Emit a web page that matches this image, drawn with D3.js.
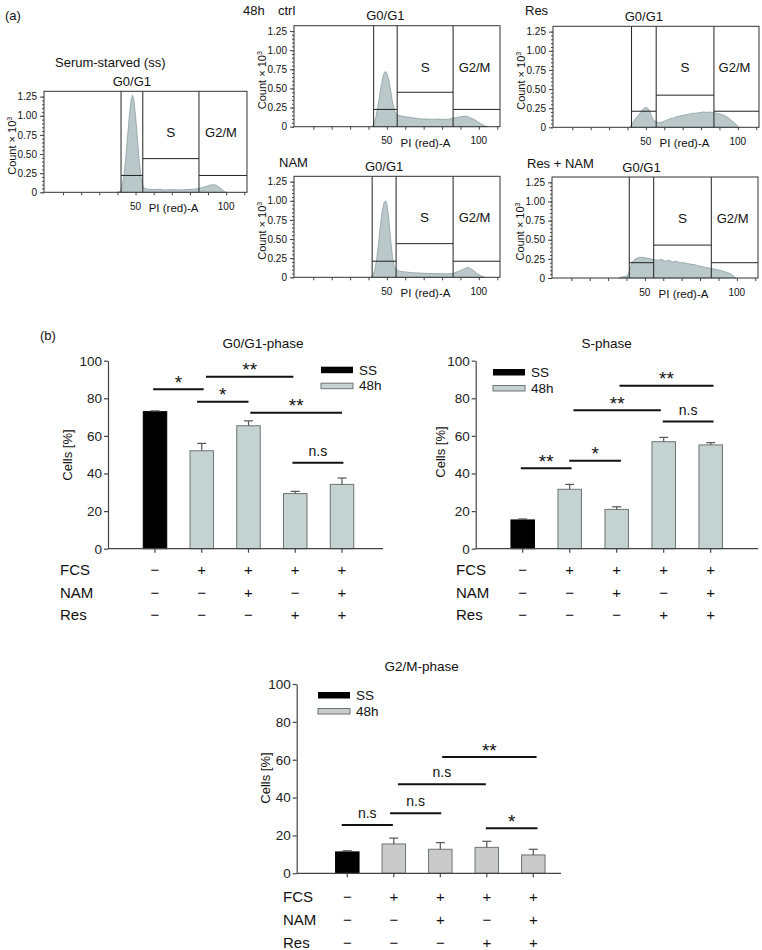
<!DOCTYPE html>
<html>
<head>
<meta charset="utf-8">
<script src="https://cdn.jsdelivr.net/npm/d3@7"></script>
<style>
  body { margin: 0; background: #fff; }
  svg { display: block; font-family: "Liberation Sans", Arial, Helvetica, sans-serif; }
</style>
</head>
<body>
<svg id="fig" width="762" height="950"></svg>
<script>
// ---------- (a) DNA histograms: [PI (red)-A, count x 10^3] ----------
const histSS = [[40,0],[41.5,0.01],[42.5,0.06],[43.5,0.2],[44.5,0.42],[45.5,0.7],[46.5,0.98],[47.5,1.2],[48.3,1.27],[49,1.22],[50,1.0],[51,0.72],[52,0.42],[53,0.2],[54,0.09],[55,0.05],[57,0.04],[60,0.035],[63,0.04],[66,0.03],[70,0.035],[74,0.03],[78,0.035],[82,0.04],[85,0.05],[88,0.07],[90,0.085],[92,0.1],[93,0.095],[94,0.1],[96,0.07],[98,0.03],[99,0.01],[100,0]];
const histCtrl = [[42,0],[43,0.04],[44,0.12],[45,0.25],[46,0.4],[47,0.55],[48,0.67],[49,0.72],[50,0.7],[51,0.62],[52,0.48],[53,0.33],[54,0.22],[55,0.17],[56,0.15],[58,0.14],[60,0.13],[63,0.12],[66,0.11],[69,0.1],[72,0.1],[75,0.095],[78,0.1],[81,0.095],[84,0.1],[86,0.11],[88,0.12],[90,0.13],[92,0.135],[93,0.14],[95,0.12],[97,0.1],[99,0.07],[101,0.04],[103,0.015],[104.5,0]];
const histRes = [[41.5,0],[42,0.03],[43,0.07],[45,0.13],[47,0.19],[48.5,0.24],[50,0.26],[51,0.25],[52,0.22],[53,0.15],[54,0.1],[55.5,0.07],[57,0.06],[59,0.07],[61,0.09],[63,0.11],[65,0.12],[67,0.14],[69,0.15],[71,0.16],[73,0.17],[75,0.18],[77,0.185],[79,0.19],[81,0.2],[83,0.195],[85,0.2],[87,0.19],[89,0.18],[91,0.17],[93,0.15],[95,0.12],[97,0.08],[99,0.04],[100.5,0]];
const histNAM = [[41.5,0],[42.5,0.03],[43.5,0.1],[44.5,0.25],[45.5,0.45],[46.5,0.68],[47.5,0.87],[48.5,0.98],[49.3,1.0],[50,0.96],[51,0.78],[52,0.5],[53,0.27],[54,0.14],[55,0.1],[57,0.08],[60,0.07],[64,0.06],[68,0.055],[72,0.05],[76,0.05],[80,0.045],[84,0.045],[86,0.05],[88,0.07],[90,0.09],[92,0.11],[94,0.13],[95,0.12],[97,0.09],[99,0.05],[101,0.02],[103,0]];
const histResNAM = [[36,0],[37,0.01],[39,0.02],[40.5,0.03],[41.5,0.08],[42.5,0.17],[43.5,0.22],[45,0.25],[47,0.27],[49,0.27],[51,0.26],[53,0.25],[55,0.24],[57,0.23],[59,0.245],[61,0.22],[63,0.23],[65,0.21],[67,0.22],[69,0.2],[71,0.2],[73,0.19],[75,0.18],[77,0.175],[79,0.16],[81,0.15],[83,0.14],[85,0.13],[87,0.12],[89,0.11],[91,0.1],[93,0.085],[95,0.07],[97,0.05],[98.5,0.02],[99.5,0]];

// gate borders (G0/G1 start, S start, G2/M start) and gate marker levels
const gatesSS = [42, 54, 85],       levelsSS = [0.22, 0.44, 0.22];
const gatesCtrl = [42.8, 55.6, 86], levelsCtrl = [0.226, 0.45, 0.226];
const gatesRes = [42.2, 55.6, 87],  levelsRes = [0.21, 0.42, 0.21];
const gatesNAM = [42, 55, 86],      levelsNAM = [0.21, 0.44, 0.21];
const gatesResNAM = [41.5, 54.8, 86.1], levelsResNAM = [0.2, 0.43, 0.2];

const histYTicks = [0, 0.25, 0.5, 0.75, 1, 1.25];
const histXTicks = [10, 20, 30, 40, 50, 60, 70, 80, 90, 100, 110];
const histXLabels = [50, 100];

// ---------- (b) bar charts ----------
const legendLabels = ["SS", "48h"];
const rowNames = ["FCS", "NAM", "Res"];
const fcsSigns = ["−", "+", "+", "+", "+"];
const namSigns = ["−", "−", "+", "−", "+"];
const resSigns = ["−", "−", "−", "+", "+"];
const barYTicks = [0, 20, 40, 60, 80, 100];

const g0g1Vals = [72.9, 52.1, 65.4, 29.3, 34.2];
const g0g1Err  = [0.4, 3.9, 2.6, 1.2, 3.4];
const sVals    = [15.3, 31.6, 20.9, 56.9, 55.2];
const sErr     = [0.5, 2.6, 1.4, 2.3, 1.2];
const g2mVals  = [11.3, 15.5, 12.7, 13.7, 9.7];
const g2mErr   = [0.6, 3.1, 3.5, 3.2, 3.0];

// significance bars: [from bar, to bar, height %, label]
const g0g1Sig = [[-0.04, 1.04, 84.8, "*"], [1.09, 2.96, 91.5, "**"], [0.9, 2.0, 78.2, "*"], [2.04, 4.0, 72.3, "**"], [2.94, 4.03, 45.7, "n.s"]];
const sSig    = [[-0.04, 1.04, 42.8, "**"], [0.99, 2.09, 46.8, "*"], [1.08, 2.94, 73.6, "**"], [2.98, 4.06, 67.6, "n.s"], [2.06, 4.06, 86.7, "**"]];
const g2mSig  = [[-0.12, 0.98, 25.5, "n.s"], [0.92, 2.02, 31.7, "n.s"], [1.09, 2.98, 47.0, "n.s"], [2.04, 4.07, 61.4, "**"], [2.98, 4.09, 23.8, "*"]];

const svg = d3.select("#fig");
const txt = (x, y, s, size, anchor = "start") =>
  svg.append("text").attr("x", x).attr("y", y).attr("dy", "0.35em")
    .attr("font-size", size).attr("text-anchor", anchor).attr("fill", "#111").text(s);

// ================= (a) =================
txt(5, 15, "(a)", 13);
txt(243, 10, "48h", 13);

const histPanels = [
  { title: "Serum-starved (ss)", tx: 55, ty: 62, x0: 44, x1: 247, y1: 192.3, data: histSS, gates: gatesSS, levels: levelsSS },
  { title: "ctrl", tx: 278, ty: 10, x0: 294, x1: 500, y1: 126.7, data: histCtrl, gates: gatesCtrl, levels: levelsCtrl },
  { title: "Res", tx: 525, ty: 10, x0: 553, x1: 759, y1: 127.3, data: histRes, gates: gatesRes, levels: levelsRes },
  { title: "NAM", tx: 279, ty: 162, x0: 294, x1: 500, y1: 277.3, data: histNAM, gates: gatesNAM, levels: levelsNAM },
  { title: "Res + NAM", tx: 527, ty: 163, x0: 552, x1: 758, y1: 278, data: histResNAM, gates: gatesResNAM, levels: levelsResNAM }
];

histPanels.forEach(p => {
  const xMax = 111.5;
  const x = d3.scaleLinear().domain([-0.5, xMax]).range([p.x0, p.x1]);
  const top = p.y1 - 101;
  const y = d3.scaleLinear().domain([0, 1.32]).range([p.y1, top]);
  const g = svg.append("g");

  g.append("path").datum(p.data)
    .attr("d", d3.area().x(d => x(d[0])).y0(y(0)).y1(d => y(d[1])))
    .attr("fill", "#bac8ca").attr("stroke", "#8c9ea1").attr("stroke-width", 0.8);

  const [a, b, c] = p.gates;
  [a, b, c].forEach(v => g.append("line")
    .attr("x1", x(v)).attr("x2", x(v)).attr("y1", top).attr("y2", p.y1)
    .attr("stroke", "#222").attr("stroke-width", 1));
  [[a, b, p.levels[0]], [b, c, p.levels[1]], [c, xMax, p.levels[2]]].forEach(([s, e, l]) =>
    g.append("line").attr("x1", x(s)).attr("x2", x(e)).attr("y1", y(l)).attr("y2", y(l))
      .attr("stroke", "#222").attr("stroke-width", 1));

  g.append("rect").attr("x", p.x0).attr("y", top)
    .attr("width", p.x1 - p.x0).attr("height", p.y1 - top)
    .attr("fill", "none").attr("stroke", "#333").attr("stroke-width", 1);

  // y axis: minor + major ticks
  g.append("g").attr("transform", `translate(${p.x0},0)`)
    .call(d3.axisLeft(y).tickValues(d3.range(0, 1.2501, 0.05)).tickSize(2).tickSizeOuter(0).tickFormat(""))
    .call(s => s.select(".domain").remove())
    .call(s => s.selectAll("line").attr("stroke", "#444"));
  g.append("g").attr("transform", `translate(${p.x0},0)`)
    .call(d3.axisLeft(y).tickValues(histYTicks).tickSize(4).tickSizeOuter(0)
      .tickFormat(d => d === 0 ? "0" : d.toFixed(2)))
    .call(s => s.select(".domain").remove())
    .call(s => s.selectAll("line").attr("stroke", "#444"))
    .call(s => s.selectAll("text").attr("font-size", 10).attr("font-family", null).attr("fill", "#111"));

  // x axis ticks
  g.append("g").attr("transform", `translate(0,${p.y1})`)
    .call(d3.axisBottom(x).tickValues(histXTicks).tickSize(3).tickSizeOuter(0).tickFormat(""))
    .call(s => s.select(".domain").remove())
    .call(s => s.selectAll("line").attr("stroke", "#444"));
  histXLabels.forEach(v => txt(x(v), p.y1 + 14, String(v), 10, "middle"));
  txt(x(71), p.y1 + 16, "PI (red)-A", 11.5, "middle");

  // y title
  const yt = svg.append("text")
    .attr("transform", `translate(${p.x0 - 32},${(top + p.y1) / 2 + 4}) rotate(-90)`)
    .attr("text-anchor", "middle").attr("dy", "0.35em").attr("font-size", 11).attr("fill", "#111");
  yt.append("tspan").text("Count × 10");
  yt.append("tspan").attr("font-size", 7).attr("dy", "-0.6em").text("3");

  // gate names and panel title
  txt(x((a + b) / 2), top - 10, "G0/G1", 13, "middle");
  txt(x((b + c) / 2), y(0.78), "S", 13.5, "middle");
  txt(x((c + xMax) / 2) - 2, y(0.78), "G2/M", 13, "middle");
  txt(p.tx, p.ty, p.title, 13);
});

// ================= (b) =================
txt(40, 335, "(b)", 13);

const barPanels = [
  { title: "G0/G1-phase", vals: g0g1Vals, errs: g0g1Err, sig: g0g1Sig, ax: 108, y0: 548.7, y100: 360.7, b0: 155, b4: 342, xEnd: 383,
    fill: "#c4d2d2", tX: 263, tY: 343, ylX: 67, ylY: 455, rowX: 60, rowY: [570, 593, 615], lx: 321, ly: 366.7 },
  { title: "S-phase", vals: sVals, errs: sErr, sig: sSig, ax: 475.7, y0: 548.7, y100: 360.7, b0: 522.7, b4: 710.7, xEnd: 758,
    fill: "#c4d2d2", tX: 606.7, tY: 343, ylX: 440, ylY: 452, rowX: 456, rowY: [570, 593, 615], lx: 493, ly: 369 },
  { title: "G2/M-phase", vals: g2mVals, errs: g2mErr, sig: g2mSig, ax: 296.7, y0: 873.3, y100: 684, b0: 347.3, b4: 533.3, xEnd: 561,
    fill: "#cacaca", tX: 421.7, tY: 666, ylX: 265, ylY: 778, rowX: 283, rowY: [897, 919.5, 942.5], lx: 318, ly: 692 }
];
const signRows = [fcsSigns, namSigns, resSigns];

barPanels.forEach(p => {
  const x = d3.scaleLinear().domain([0, 4]).range([p.b0, p.b4]);
  const y = d3.scaleLinear().domain([0, 100]).range([p.y0, p.y100]);
  const bw = 23.5;
  const g = svg.append("g");

  // bars
  g.selectAll("rect.bar").data(p.vals).join("rect").attr("class", "bar")
    .attr("x", (d, i) => x(i) - bw / 2).attr("y", d => y(d))
    .attr("width", bw).attr("height", d => y(0) - y(d))
    .attr("fill", (d, i) => i === 0 ? "#000" : p.fill)
    .attr("stroke", (d, i) => i === 0 ? "#000" : "#6e7474").attr("stroke-width", 1);

  // error bars (upper whisker)
  p.vals.forEach((v, i) => {
    const e = p.errs[i];
    g.append("line").attr("x1", x(i)).attr("x2", x(i)).attr("y1", y(v)).attr("y2", y(v + e))
      .attr("stroke", "#555").attr("stroke-width", 1.2);
    g.append("line").attr("x1", x(i) - 4.5).attr("x2", x(i) + 4.5).attr("y1", y(v + e)).attr("y2", y(v + e))
      .attr("stroke", "#555").attr("stroke-width", 1.2);
  });

  // y axis
  g.append("g").attr("transform", `translate(${p.ax},0)`)
    .call(d3.axisLeft(y).tickValues(barYTicks).tickSize(4).tickSizeOuter(0))
    .call(s => s.select(".domain").attr("stroke", "#444").attr("stroke-width", 1.2))
    .call(s => s.selectAll("line").attr("stroke", "#444").attr("stroke-width", 1.2))
    .call(s => s.selectAll("text").attr("font-size", 13.5).attr("font-family", null).attr("fill", "#222").attr("x", -6));

  // x axis
  g.append("line").attr("x1", p.ax).attr("x2", p.xEnd).attr("y1", y(0)).attr("y2", y(0))
    .attr("stroke", "#444").attr("stroke-width", 1.2);
  p.vals.forEach((v, i) => g.append("line").attr("x1", x(i)).attr("x2", x(i))
    .attr("y1", y(0)).attr("y2", y(0) + 4).attr("stroke", "#444").attr("stroke-width", 1.2));

  // significance bars
  p.sig.forEach(([a, b, h, lab]) => {
    g.append("line").attr("x1", x(a)).attr("x2", x(b)).attr("y1", y(h)).attr("y2", y(h))
      .attr("stroke", "#111").attr("stroke-width", 2);
    const star = lab !== "n.s";
    g.append("text").attr("x", x((a + b) / 2)).attr("y", y(h) - (star ? 0.5 : 7))
      .attr("text-anchor", "middle").attr("font-size", star ? 19 : 14).attr("fill", "#111").text(lab);
  });

  // legend
  g.append("rect").attr("x", p.lx).attr("y", p.ly).attr("width", 32).attr("height", 6.5).attr("fill", "#000");
  g.append("rect").attr("x", p.lx).attr("y", p.ly + 16.5).attr("width", 32).attr("height", 5.5)
    .attr("fill", p.fill).attr("stroke", "#6e7474").attr("stroke-width", 1);
  txt(p.lx + 38, p.ly + 3.5, legendLabels[0], 13.5);
  txt(p.lx + 38, p.ly + 19, legendLabels[1], 13.5);

  // title and y label
  txt(p.tX, p.tY, p.title, 13.5, "middle");
  svg.append("text").attr("transform", `translate(${p.ylX},${p.ylY}) rotate(-90)`)
    .attr("text-anchor", "middle").attr("dy", "0.35em").attr("font-size", 13).attr("fill", "#111").text("Cells [%]");

  // treatment table
  rowNames.forEach((r, k) => {
    txt(p.rowX, p.rowY[k], r, 15);
    signRows[k].forEach((s, i) => txt(x(i), p.rowY[k], s, 15, "middle"));
  });
});
</script>
</body>
</html>
